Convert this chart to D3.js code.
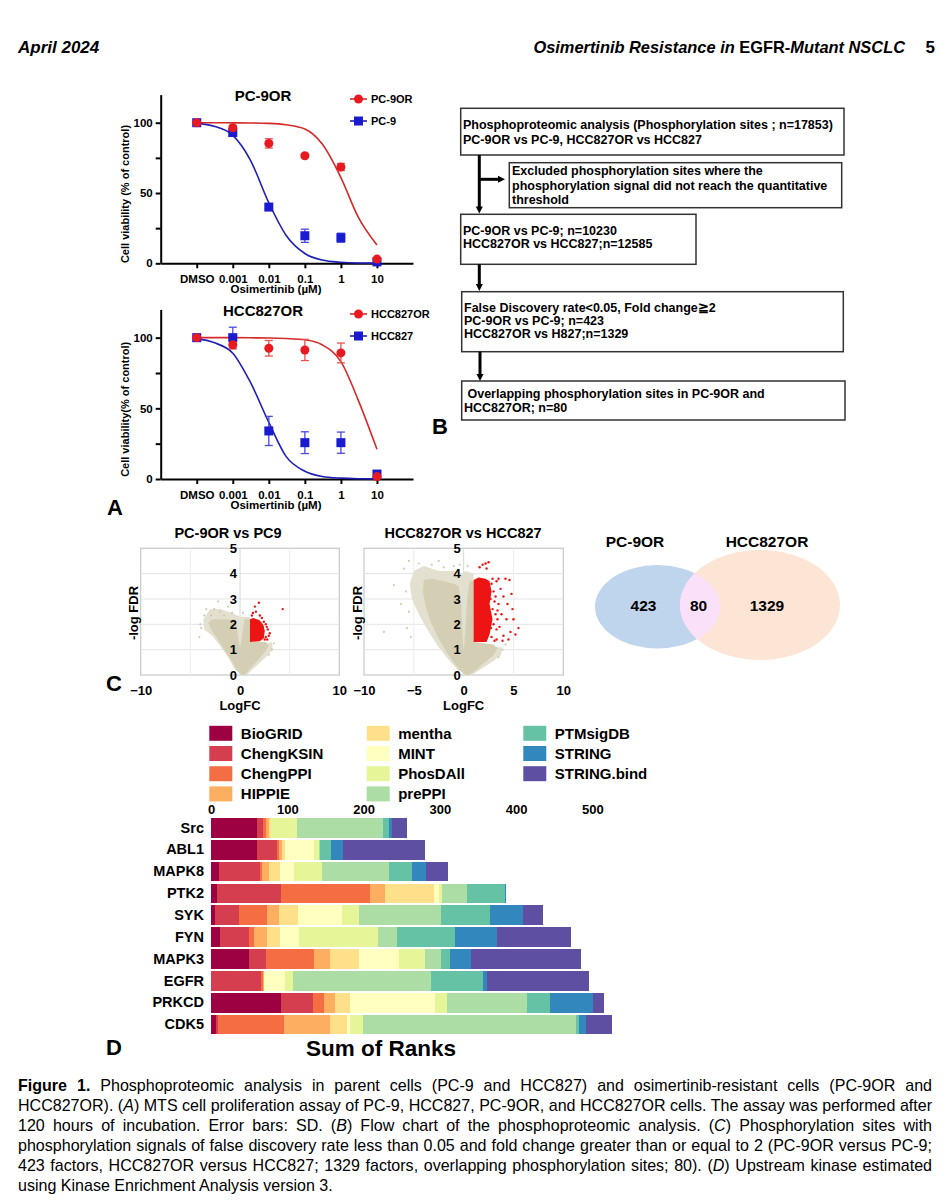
<!DOCTYPE html>
<html><head><meta charset="utf-8">
<script src="https://cdn.jsdelivr.net/npm/d3@7"></script>
<style>
body{margin:0;background:#fff}
svg{display:block}
text{font-family:Arial,"Liberation Sans",sans-serif;fill:#000}
</style></head><body>
<svg id="fig" width="948" height="1200"></svg>
<script>
// ---------------- DATA ----------------
// Panel A: dose response
const doseLabels = ["DMSO","0.001","0.01","0.1","1","10"];
const doseConc   = [0, 0.001, 0.01, 0.1, 1, 10];
const pc9orMean  = [100, 96.4, 85.3, 76.5, 68.5, 3];
const pc9orSD    = [0.8, 1.5, 3.3, 1.2, 2.5, 1];
const pc9Mean    = [100, 93, 40, 19.6, 18.2, 1];
const pc9SD      = [0.8, 2, 1.5, 4.7, 3.2, 0.5];
const hccorMean  = [100, 95, 92.5, 91.3, 89.2, 1.7];
const hccorSD    = [1, 3, 5.5, 7.5, 7, 0.8];
const hccMean    = [100, 100, 34, 25.7, 25.7, 3.5];
const hccSD      = [1, 7.4, 10.3, 7.7, 7.5, 1];
const fitDose    = [1e-4, 3e-4, 1e-3, 3e-3, 1e-2, 3e-2, 0.1, 0.3, 1, 3, 10];
const pc9orFit   = [100, 100, 99.9, 99.8, 99.5, 98.5, 95.5, 85, 61, 33, 13];
const pc9Fit     = [99.5, 97.5, 91, 74, 43, 20, 7, 2.3, 0.7, 0.2, 0.1];
const hccorFit   = [100, 100, 100, 99.9, 99.8, 99.4, 98.5, 95, 83, 56, 21];
const hccFit     = [99.3, 96.5, 89, 69, 40, 16, 5.5, 1.8, 0.6, 0.2, 0.1];

// Panel B: flow chart texts
const flowBox1 = ["Phosphoproteomic analysis (Phosphorylation sites ; n=17853)", "PC-9OR vs PC-9, HCC827OR vs HCC827"];
const flowBox2 = ["Excluded phosphorylation sites where the", "phosphorylation signal did not reach the quantitative", "threshold"];
const flowBox3 = ["PC-9OR vs PC-9; n=10230", "HCC827OR vs HCC827;n=12585"];
const flowBox4 = ["False Discovery rate<0.05, Fold change\u22672", "PC-9OR vs PC-9; n=423", "HCC827OR vs H827;n=1329"];
const flowBox5 = [" Overlapping phosphorylation sites in PC-9OR and", "HCC827OR; n=80"];

// Panel C: volcano plots (dense regions as outlines + sparse points) [logFC, -logFDR]
const v1TanHalo = [[0.2,0],[-0.5,0.2],[-1.2,0.7],[-2.0,1.15],[-2.8,1.55],[-3.6,1.8],[-3.7,2.2],[-3.0,2.6],[-2.0,2.6],[-0.8,2.45],[0,2.3],[1.0,2.3],[1.0,1.2],[2.5,1.2],[3.2,1.3],[3.3,1.0],[2.6,0.7],[1.6,0.35],[0.8,0.05]];
const v1TanCore = [[0.15,0],[-0.3,0.2],[-0.9,0.6],[-1.6,1.0],[-2.3,1.45],[-2.9,1.8],[-3.2,2.05],[-2.8,2.2],[-0.45,2.2],[-0.2,1.5],[0,1.05],[0.2,1.5],[0.45,2.2],[1.0,2.2],[1.0,1.3],[2.0,1.3],[2.6,1.3],[2.9,1.15],[2.4,0.85],[1.6,0.5],[0.9,0.2],[0.5,0]];
const v1RedArea = [[1.0,1.3],[1.0,2.2],[1.3,2.25],[1.7,2.2],[2.0,2.15],[2.3,2.0],[2.5,1.75],[2.4,1.45],[2.0,1.33]];
const v1TanPts  = [[-3.9,1.85],[-4.1,1.5],[-3.6,2.35],[-2.6,2.6],[-2.0,2.5],[-1.2,2.7],[-2.9,2.35],[-0.8,2.45],[-3.4,2.6],[-1.6,2.35],[0.3,2.45],[3.2,1.0],[2.9,0.8],[3.4,1.25],[-4.0,2.0],[-2.2,2.9]];
const v1RedPts  = [[1.3,2.45],[1.5,2.7],[1.9,2.85],[1.6,2.5],[2.0,2.35],[2.4,2.1],[2.7,1.9],[2.9,1.55],[2.6,1.5],[2.8,1.8],[2.2,2.25],[4.3,2.6],[1.2,2.35],[2.5,1.4],[3.0,1.65],[2.6,2.0],[2.75,1.4],[2.3,1.9]];
const v2TanHalo = [[0.3,0],[-0.6,0.2],[-1.5,0.6],[-2.5,1.1],[-3.5,1.7],[-4.5,2.4],[-5.2,3.0],[-5.4,3.6],[-5.0,4.1],[-4.0,4.3],[-2.5,4.1],[-1.0,4.1],[-0.2,4.0],[0.2,4.1],[1.0,4.0],[1.0,1.2],[2.5,1.1],[3.8,1.1],[3.8,0.8],[2.8,0.5],[1.6,0.2],[0.8,0]];
const v2TanCore = [[0.2,0],[-0.4,0.2],[-1.0,0.5],[-1.8,0.95],[-2.6,1.5],[-3.3,2.1],[-3.8,2.7],[-4.1,3.3],[-4.0,3.75],[-3.2,3.8],[-2.0,3.7],[-1.0,3.6],[-0.5,3.5],[-0.25,2.8],[-0.12,1.6],[0,0.9],[0.15,1.6],[0.35,3.0],[0.6,3.7],[1.0,3.7],[1.0,1.3],[2.0,1.25],[3.0,1.2],[3.4,1.05],[2.9,0.75],[2.0,0.45],[1.1,0.15],[0.6,0]];
const v2RedArea = [[1.0,1.3],[1.0,3.75],[1.5,3.85],[2.2,3.8],[2.6,3.7],[2.8,3.3],[2.6,2.8],[2.9,2.2],[2.6,1.6],[2.3,1.3]];
const v2TanPts  = [[-7.0,3.55],[-8.0,1.7],[-5.7,1.85],[-5.5,2.5],[-6.0,4.2],[-5.5,4.5],[-4.5,4.4],[-3.2,4.35],[-2.0,4.25],[-1.0,4.3],[-0.4,4.35],[-5.8,3.3],[-6.3,2.8],[-5.3,1.5],[0.4,4.3],[-2.5,4.5],[3.9,1.0],[4.2,1.2],[3.5,0.7]];
const v2RedPts  = [[1.6,4.25],[1.9,4.35],[2.2,4.4],[2.5,4.45],[2.3,4.2],[3.5,3.8],[4.2,3.8],[4.6,3.75],[3.7,3.4],[4.0,3.1],[3.5,2.8],[4.4,2.8],[4.9,2.6],[3.8,2.4],[4.3,2.2],[5.0,2.2],[5.5,1.85],[4.7,1.7],[4.0,1.55],[3.6,1.9],[5.2,1.6],[3.9,1.35],[4.5,1.4],[3.4,2.2],[4.8,3.2],[3.3,1.4],[2.8,3.6],[3.0,3.3],[3.1,2.9],[2.9,2.6],[3.2,2.4],[3.0,2.0],[3.3,1.8],[2.8,1.5],[3.1,1.35],[2.7,3.0],[3.3,3.7],[2.9,3.8],[3.2,3.1],[3.4,2.55],[2.75,1.85]];
const volcanoXTicks1 = [-10, 0, 10];
const volcanoXTicks2 = [-10, -5, 0, 5, 10];

// Venn
const vennNames  = ["PC-9OR", "HCC827OR"];
const vennCounts = [423, 80, 1329];

// Panel D: KEA3 sum of ranks
const kinases = ["Src","ABL1","MAPK8","PTK2","SYK","FYN","MAPK3","EGFR","PRKCD","CDK5"];
const sources = ["BioGRID","ChengKSIN","ChengPPI","HIPPIE","mentha","MINT","PhosDAll","prePPI","PTMsigDB","STRING","STRING.bind"];
const sourceColors = ["#9e0142","#d53e4f","#f46d43","#fdae61","#fee08b","#ffffbf","#e6f598","#abdda4","#66c2a5","#3288bd","#5e4fa2"];
const rankSrc   = [60.8, 7, 4.4, 3.5, 2.6, 0.5, 34.5, 112, 8.7, 3, 20.6];
const rankABL1  = [60, 27, 2.5, 4, 4, 37, 6.5, 2, 14, 16.6, 107];
const rankMAPK8 = [11, 53.4, 3, 8.7, 14.4, 18.4, 37.2, 87.5, 29.7, 18.8, 28.4];
const rankPTK2  = [7.4, 84.4, 116.8, 19.7, 64.3, 6, 4, 32.8, 50.3, 1.3, 0];
const rankSYK   = [5.7, 31.5, 36.7, 15.7, 25, 56.9, 22.7, 107.2, 64.7, 42.9, 25.8];
const rankFYN   = [11.8, 38, 7, 17, 16.6, 25, 103.2, 25.8, 75.7, 54.7, 97.5];
const rankMAPK3 = [49.9, 21.9, 63.4, 21, 38.5, 51.2, 34.1, 21.9, 10.9, 28, 144.8];
const rankEGFR  = [0, 65.2, 2.5, 1.5, 0, 28.4, 9.6, 181.1, 68.7, 4.4, 134.3];
const rankPRKCD = [91.9, 42.4, 14.4, 14, 19.7, 110.7, 16.2, 105, 30.6, 56, 14];
const rankCDK5  = [6.1, 2.6, 87.5, 60.4, 22.3, 3.5, 17.5, 279.1, 3.9, 9.2, 33.7];
const rankTicks = [0, 100, 200, 300, 400, 500];

// Header and caption texts
const headerLeft  = "April 2024";
const headerParts = [["Osimertinib Resistance in ", "italic"], ["EGFR", "normal"], ["-Mutant NSCLC", "italic"]];
const headerPage  = "5";
const captionLines = [
  "**Figure 1.** Phosphoproteomic analysis in parent cells (PC-9 and HCC827) and osimertinib-resistant cells (PC-9OR and",
  "HCC827OR). (_A_) MTS cell proliferation assay of PC-9, HCC827, PC-9OR, and HCC827OR cells. The assay was performed after",
  "120 hours of incubation. Error bars: SD. (_B_) Flow chart of the phosphoproteomic analysis. (_C_) Phosphorylation sites with",
  "phosphorylation signals of false discovery rate less than 0.05 and fold change greater than or equal to 2 (PC-9OR versus PC-9;",
  "423 factors, HCC827OR versus HCC827; 1329 factors, overlapping phosphorylation sites; 80). (_D_) Upstream kinase estimated",
  "using Kinase Enrichment Analysis version 3."
];

// ---------------- DRAWING ----------------
const svg = d3.select("#fig");
svg.append("rect").attr("width",948).attr("height",1200).attr("fill","#fff");

// Header
const hdr = svg.append("g").style("font-weight","bold").style("font-size","17px");
hdr.append("text").attr("x",18).attr("y",53).style("font-style","italic").text(headerLeft);
const hEls = headerParts.map(p => hdr.append("text").attr("y",53).attr("xml:space","preserve").style("font-style",p[1]).text(p[0]));
let hTot = hEls.reduce((s,t) => s + t.node().getComputedTextLength(), 0);
const hScale = 372 / hTot;
hEls.forEach(t => t.style("font-size",(17*hScale)+"px"));
hTot = hEls.reduce((s,t) => s + t.node().getComputedTextLength(), 0);
let hx = 905 - hTot;
hEls.forEach(t => { t.attr("x",hx); hx += t.node().getComputedTextLength(); });
hdr.append("text").attr("x",935).attr("y",53).attr("text-anchor","end").text(headerPage);

// Panel A
const RED = "#e8191f", BLUE = "#1a1ad0";
const DMSO_POS = 1e-4;
function dosePanel(o){
  const g = svg.append("g");
  const x = d3.scaleLog().domain([1e-5,100]).range([160.7,413]);
  const y = d3.scaleLinear().domain([0,120]).range([o.yZero,o.yTop]);
  const px = c => x(c===0 ? DMSO_POS : c);
  const ya = g.append("g").attr("transform","translate(160.7,0)")
    .call(d3.axisLeft(y).tickValues([0,25,50,75,100]).tickFormat(d => d%50===0 ? d : "").tickSize(5).tickSizeOuter(0).tickPadding(3));
  const xa = g.append("g").attr("transform",`translate(0,${o.yZero})`)
    .call(d3.axisBottom(x).tickValues(doseConc.map(c => c===0 ? DMSO_POS : c)).tickFormat((d,i) => doseLabels[i]).tickSize(5).tickSizeOuter(0).tickPadding(7));
  [ya,xa].forEach(a => {
    a.selectAll(".domain,.tick line").attr("stroke","#000").attr("stroke-width",2);
    a.selectAll("text").style("font-weight","bold").style("font-size","11.5px").attr("fill","#000");
  });
  g.append("text").attr("transform",`translate(125,${(o.yZero+y(100))/2 + 1}) rotate(-90)`).attr("text-anchor","middle")
    .attr("dominant-baseline","central").style("font-weight","bold").style("font-size","11px").text(o.ylab);
  g.append("text").attr("x",276).attr("y",o.yZero+30).attr("text-anchor","middle").style("font-weight","bold").style("font-size","11.5px").text("Osimertinib (\u00b5M)");
  g.append("text").attr("x",263).attr("y",o.titleY).attr("text-anchor","middle").style("font-weight","bold").style("font-size","15px").text(o.title);
  const line = d3.line().x(d => x(d[0])).y(d => y(d[1])).curve(d3.curveMonotoneX);
  g.append("path").attr("d",line(fitDose.map((d,i)=>[d,o.blueFit[i]]))).attr("fill","none").attr("stroke","#1f1fb4").attr("stroke-width",1.6);
  g.append("path").attr("d",line(fitDose.map((d,i)=>[d,o.redFit[i]]))).attr("fill","none").attr("stroke","#d42a2a").attr("stroke-width",1.6);
  function errs(mean,sd,col){
    doseConc.forEach((c,i) => {
      const cx = px(c), y1 = y(mean[i]-sd[i]), y2 = y(mean[i]+sd[i]);
      g.append("line").attr("x1",cx).attr("x2",cx).attr("y1",y1).attr("y2",y2).attr("stroke",col).attr("stroke-width",1.3);
      [y1,y2].forEach(yy => g.append("line").attr("x1",cx-4).attr("x2",cx+4).attr("y1",yy).attr("y2",yy).attr("stroke",col).attr("stroke-width",1.3));
    });
  }
  errs(o.blueMean,o.blueSD,"#4a4ae0");
  errs(o.redMean,o.redSD,"#e85050");
  doseConc.forEach((c,i) => g.append("rect").attr("x",px(c)-4.5).attr("y",y(o.blueMean[i])-4.5).attr("width",9).attr("height",9).attr("fill",BLUE));
  doseConc.forEach((c,i) => g.append("circle").attr("cx",px(c)).attr("cy",y(o.redMean[i])).attr("r",4.5).attr("fill",RED));
  // legend
  const ly = [o.titleY-2, o.titleY+20];
  g.append("line").attr("x1",350).attr("x2",367).attr("y1",ly[0]).attr("y2",ly[0]).attr("stroke","#d42a2a").attr("stroke-width",1.6);
  g.append("circle").attr("cx",358.5).attr("cy",ly[0]).attr("r",4.5).attr("fill",RED);
  g.append("line").attr("x1",350).attr("x2",367).attr("y1",ly[1]).attr("y2",ly[1]).attr("stroke","#1f1fb4").attr("stroke-width",1.6);
  g.append("rect").attr("x",354).attr("y",ly[1]-4.5).attr("width",9).attr("height",9).attr("fill",BLUE);
  g.append("text").attr("x",371).attr("y",ly[0]).attr("dominant-baseline","central").style("font-weight","bold").style("font-size","11px").text(o.redName);
  g.append("text").attr("x",371).attr("y",ly[1]).attr("dominant-baseline","central").style("font-weight","bold").style("font-size","11px").text(o.blueName);
}
dosePanel({yZero:263.3,yTop:94.6,title:"PC-9OR",titleY:101,ylab:"Cell viability (% of control)",
  redName:"PC-9OR",blueName:"PC-9",redMean:pc9orMean,redSD:pc9orSD,blueMean:pc9Mean,blueSD:pc9SD,redFit:pc9orFit,blueFit:pc9Fit});
dosePanel({yZero:479,yTop:309.4,title:"HCC827OR",titleY:316,ylab:"Cell viability(% of control)",
  redName:"HCC827OR",blueName:"HCC827",redMean:hccorMean,redSD:hccorSD,blueMean:hccMean,blueSD:hccSD,redFit:hccorFit,blueFit:hccFit});

function panelLabel(t,x,y){ svg.append("text").attr("x",x).attr("y",y).style("font-weight","bold").style("font-size","22px").text(t); }
panelLabel("A",107,515);
panelLabel("B",432,434);
panelLabel("C",106,691);
panelLabel("D",106,1055);

// Panel B flowchart
const fb = svg.append("g");
function box(x,y,w,h,lines,tx,ly){
  fb.append("rect").attr("x",x).attr("y",y).attr("width",w).attr("height",h).attr("fill","#fff").attr("stroke","#333").attr("stroke-width",1.5);
  lines.forEach((t,i) => fb.append("text").attr("x",tx).attr("y",ly[i]).attr("dominant-baseline","central").style("font-weight","bold").style("font-size","12.5px").attr("xml:space","preserve").text(t));
}
box(460.7,108.3,383.3,46.7,flowBox1,463,[125,139.5]);
box(509.3,162.7,332.4,45,flowBox2,512,[171,185.7,200.3]);
box(460.7,214.3,235.3,50,flowBox3,463,[231,244]);
box(461.7,291.7,381.6,60,flowBox4,464,[307.7,320.7,333.5]);
box(461.7,381,383.3,39,flowBox5,464,[393.5,408.3]);
function arrow(x1,y1,x2,y2){
  fb.append("line").attr("x1",x1).attr("y1",y1).attr("x2",x2).attr("y2",y2).attr("stroke","#000").attr("stroke-width",3);
}
function headDown(x,y){ fb.append("path").attr("d",`M${x-3.5},${y-7}L${x+3.5},${y-7}L${x},${y}Z`).attr("fill","#000"); }
function headRight(x,y){ fb.append("path").attr("d",`M${x-7},${y-3.5}L${x-7},${y+3.5}L${x},${y}Z`).attr("fill","#000"); }
arrow(479.3,155,479.3,207); headDown(479.3,213.5);
arrow(479.3,179.3,499,179.3); headRight(505,179.3);
arrow(479.3,264.3,479.3,284.5); headDown(479.3,291);
arrow(480,351.7,480,374.5); headDown(480,381);

// Panel C volcano
function volcano(o){
  const g = svg.append("g");
  const x = d3.scaleLinear().domain([-10,10]).range([o.x0,o.x1]);
  const y = d3.scaleLinear().domain([0,5]).range([675,548.3]);
  g.append("rect").attr("x",o.x0).attr("y",548.3).attr("width",o.x1-o.x0).attr("height",675-548.3).attr("fill","#fff").attr("stroke","#c8c8c8").attr("stroke-width",1.2);
  [1,2,3,4].forEach(v => g.append("line").attr("x1",o.x0).attr("x2",o.x1).attr("y1",y(v)).attr("y2",y(v)).attr("stroke","#e4e4e4"));
  [-5,0,5].forEach(v => g.append("line").attr("x1",x(v)).attr("x2",x(v)).attr("y1",548.3).attr("y2",675).attr("stroke", v===0 ? "#d8d8d8" : "#ececec"));
  const area = d3.line().x(d => x(d[0])).y(d => y(d[1])).curve(d3.curveLinearClosed);
  g.append("path").attr("d",area(o.tanHalo)).attr("fill","#e4e0cf");
  g.append("path").attr("d",area(o.tanCore)).attr("fill","#d3ceb4");
  g.selectAll(null).data(o.tanPts).join("circle").attr("cx",d=>x(d[0])).attr("cy",d=>y(d[1])).attr("r",1.1).attr("fill","#cfcab0");
  g.append("path").attr("d",area(o.redArea)).attr("fill","#ee1414");
  g.selectAll(null).data(o.redPts).join("circle").attr("cx",d=>x(d[0])).attr("cy",d=>y(d[1])).attr("r",1.2).attr("fill","#ee1414");
  const ya = g.append("g").attr("transform",`translate(${x(0)-1},0)`).call(d3.axisLeft(y).ticks(5).tickFormat(d3.format("d")).tickSize(0).tickPadding(2));
  const xa = g.append("g").attr("transform","translate(0,675)").call(d3.axisBottom(x).tickValues(o.xt).tickSize(0).tickPadding(11));
  [ya,xa].forEach(a => { a.select(".domain").remove(); a.selectAll("text").style("font-weight","bold").style("font-size","13px").attr("fill","#000"); });
  g.append("text").attr("x",x(0)).attr("y",710).attr("text-anchor","middle").style("font-weight","bold").style("font-size","13px").text("LogFC");
  g.append("text").attr("transform",`translate(${o.ylx},613) rotate(-90)`).attr("text-anchor","middle").attr("dominant-baseline","central").style("font-weight","bold").style("font-size","13px").text("-log FDR");
  g.append("text").attr("x",o.tx).attr("y",533).attr("text-anchor","middle").attr("dominant-baseline","central").style("font-weight","bold").style("font-size","14.5px").text(o.title);
}
volcano({x0:140.7,x1:339.3,tanHalo:v1TanHalo,tanCore:v1TanCore,redArea:v1RedArea,tanPts:v1TanPts,redPts:v1RedPts,xt:volcanoXTicks1,ylx:133,tx:228,title:"PC-9OR vs PC9"});
volcano({x0:364,x1:563.3,tanHalo:v2TanHalo,tanCore:v2TanCore,redArea:v2RedArea,tanPts:v2TanPts,redPts:v2RedPts,xt:volcanoXTicks2,ylx:357,tx:463,title:"HCC827OR vs HCC827"});

// Venn
const vg = svg.append("g");
const defs = svg.append("defs");
defs.append("clipPath").attr("id","clipBlue").append("ellipse").attr("cx",657.5).attr("cy",606.7).attr("rx",62.5).attr("ry",41.7);
vg.append("ellipse").attr("cx",657.5).attr("cy",606.7).attr("rx",62.5).attr("ry",41.7).attr("fill","#bfd5ed");
vg.append("ellipse").attr("cx",760).attr("cy",605).attr("rx",80).attr("ry",55).attr("fill","#fde5d6");
vg.append("ellipse").attr("cx",760).attr("cy",605).attr("rx",80).attr("ry",55).attr("fill","#fbe0fa").attr("clip-path","url(#clipBlue)");
[[635,541.5,vennNames[0]],[767,541.5,vennNames[1]],[643.5,605,vennCounts[0]],[698.5,605,vennCounts[1]],[767,605,vennCounts[2]]].forEach(d =>
  vg.append("text").attr("x",d[0]).attr("y",d[1]).attr("text-anchor","middle").attr("dominant-baseline","central").style("font-weight","bold").style("font-size","15.5px").text(d[2]));

// Panel D
const rankRows = [rankSrc,rankABL1,rankMAPK8,rankPTK2,rankSYK,rankFYN,rankMAPK3,rankEGFR,rankPRKCD,rankCDK5];
const rows = kinases.map((k,i) => { const r = {kinase:k}; sources.forEach((s,j) => r[s] = rankRows[i][j]); return r; });
const stack = d3.stack().keys(sources)(rows);
const xs = d3.scaleLinear().domain([0,500]).range([211,592.3]);
const yb = d3.scaleBand().domain(kinases).range([817,1035.5]).paddingInner(0.1).paddingOuter(0.05);
const color = d3.scaleOrdinal().domain(sources).range(sourceColors);
const dg = svg.append("g");
dg.selectAll("g.layer").data(stack).join("g").attr("fill",d => color(d.key))
  .selectAll("rect").data(d => d).join("rect")
  .attr("x",d => xs(d[0])).attr("width",d => Math.max(0,xs(d[1])-xs(d[0])))
  .attr("y",d => yb(d.data.kinase)).attr("height",yb.bandwidth()).attr("shape-rendering","crispEdges");
const ta = dg.append("g").attr("transform","translate(0,817)").call(d3.axisTop(xs).tickValues(rankTicks).tickSize(0).tickPadding(3));
ta.select(".domain").remove();
ta.selectAll("text").style("font-weight","bold").style("font-size","13px").attr("fill","#000");
const la = dg.append("g").attr("transform","translate(211,0)").call(d3.axisLeft(yb).tickSize(0).tickPadding(7));
la.select(".domain").remove();
la.selectAll("text").style("font-weight","bold").style("font-size","14.5px").attr("fill","#000");
dg.append("text").attr("x",381).attr("y",1048).attr("text-anchor","middle").attr("dominant-baseline","central").style("font-weight","bold").style("font-size","22.5px").text("Sum of Ranks");
// legend
const legCols = [209.3, 366.7, 523.3];
sources.forEach((s,i) => {
  const col = Math.floor(i/4), row = i%4;
  const lx = legCols[col], cy = 733.3 + row*20.2;
  dg.append("rect").attr("x",lx).attr("y",cy-7.5).attr("width",23).attr("height",15).attr("fill",sourceColors[i]);
  dg.append("text").attr("x",lx+31.5).attr("y",cy).attr("dominant-baseline","central").style("font-weight","bold").style("font-size","15px").text(s);
});

// Caption: Arial squeezed horizontally to mimic the condensed journal face, lines justified
const capWrap = svg.append("g").attr("transform","translate(18,0)");
const cg = capWrap.append("g").style("font-size","16px");
function capLine(str,y){
  const t = cg.append("text").attr("x",0).attr("y",y).attr("xml:space","preserve");
  const parts = str.split(/(\*\*[^*]+\*\*|_[^_]+_)/).filter(p => p.length);
  parts.forEach(p => {
    if (p.startsWith("**")) t.append("tspan").style("font-weight","bold").text(p.slice(2,-2));
    else if (p.startsWith("_")) t.append("tspan").style("font-style","italic").text(p.slice(1,-1));
    else t.append("tspan").text(p);
  });
  return t;
}
const capEls = captionLines.map((s,i) => capLine(s, 1091 + i*20));
const w2 = capEls[1].node().getComputedTextLength();
const sx = 914 / w2;
cg.attr("transform",`scale(${sx},1)`);
capEls.forEach((t,i) => {
  if (i === capEls.length-1) return;
  const nat = t.node().getComputedTextLength();
  const spaces = (captionLines[i].match(/ /g) || []).length;
  t.attr("word-spacing", (914/sx - nat)/spaces);
});
</script>
</body></html>
